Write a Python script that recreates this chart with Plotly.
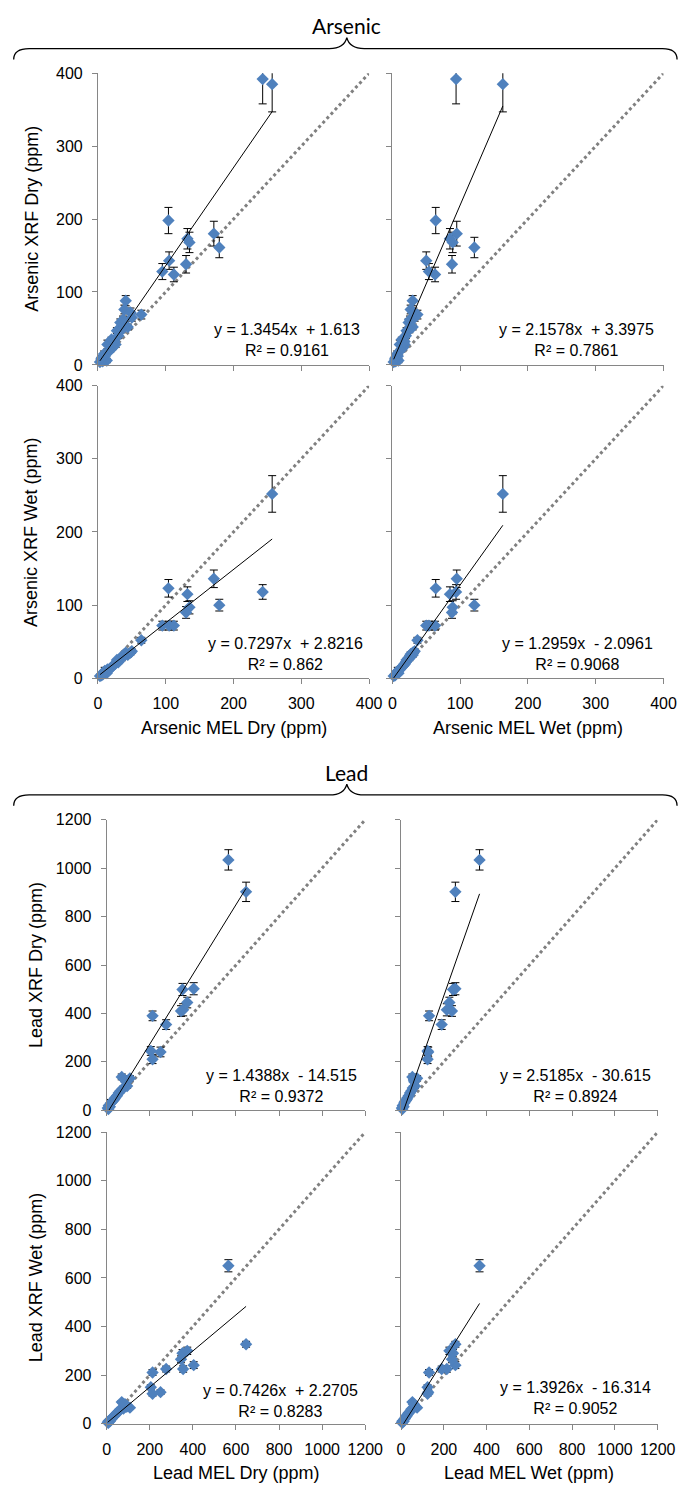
import plotly.graph_objects as go

W, H = 697, 1496

# ---------------- Arsenic data (ppm) ----------------
as_mel_dry = [243, 257, 104, 171, 179, 132, 135, 130, 105, 95, 112, 41, 39, 64, 50, 33, 28, 44,
              14, 26, 9, 7, 5, 13, 20, 22, 30, 35, 37, 48, 18, 24, 10, 3, 6]
as_mel_wet = [94, 163, 64, 95, 121, 85, 89, 88, 50, 54, 63, 30, 27, 37, 33, 24, 21, 30,
              11, 18, 7, 5, 4, 9, 14, 16, 20, 25, 26, 31, 12, 18, 8, 2, 5]
as_xrf_dry = [392, 385, 198, 180, 161, 173, 168, 138, 143, 128, 124, 88, 76, 69, 65, 58, 47, 52,
              28, 28, 15, 5, 8, 6, 35, 24, 40, 48, 62, 72, 20, 32, 12, 4, 10]
as_xrf_dry_err = [34, 38, 18, 17, 14, 14, 14, 12, 12, 11, 10, 7, 6, 6, 5, 5, 4, 4,
                  6, 4, 4, 3, 3, 3, 3, 3, 4, 4, 5, 6, 3, 3, 3, 2, 3]
as_xrf_wet = [118, 252, 123, 136, 100, 115, 97, 90, 72, 72, 72, 35, 33, 52, 37, 28, 25, 32,
              12, 20, 8, 5, 4, 7, 15, 17, 22, 27, 30, 35, 13, 19, 10, 3, 6]
as_xrf_wet_err = [10, 25, 12, 12, 8, 10, 9, 8, 6, 6, 6, 3, 3, 4, 3, 3, 2, 3,
                  3, 2, 3, 2, 2, 2, 2, 2, 2, 3, 3, 3, 2, 2, 5, 2, 2]

# trendline coefficients as printed on the chart: slope, intercept, R²
as_fit_dry_dry = (1.3454, 1.613, 0.9161)
as_fit_wet_dry = (2.1578, 3.3975, 0.7861)
as_fit_dry_wet = (0.7297, 2.8216, 0.862)
as_fit_wet_wet = (1.2959, -2.0961, 0.9068)

# ---------------- Lead data (ppm) ----------------
pb_mel_dry = [565, 647, 352, 404, 374, 355, 345, 213, 276, 205, 250, 213, 70, 108, 90, 78, 56, 40,
              10, 5, 30, 20, 64, 95, 15, 25, 48, 85, 8, 35]
pb_mel_wet = [367, 254, 243, 254, 226, 214, 238, 131, 190, 124, 127, 124, 53, 75, 62, 55, 42, 30,
              8, 4, 22, 15, 48, 65, 12, 18, 36, 60, 6, 26]
pb_xrf_dry = [1034, 902, 499, 502, 445, 415, 410, 390, 354, 245, 241, 211, 138, 132, 118, 92, 72, 52,
              20, 10, 40, 30, 80, 100, 15, 35, 60, 125, 5, 45]
pb_xrf_dry_err = [42, 40, 25, 25, 22, 25, 22, 20, 20, 18, 20, 18, 12, 11, 10, 8, 6, 5,
                  4, 3, 5, 4, 7, 9, 30, 4, 5, 10, 3, 4]
pb_xrf_wet = [650, 327, 290, 241, 300, 225, 265, 211, 225, 150, 130, 123, 89, 66, 70, 62, 50, 38,
              12, 6, 28, 18, 60, 72, 10, 22, 45, 80, 4, 32]
pb_xrf_wet_err = [25, 12, 15, 14, 15, 13, 14, 12, 12, 10, 9, 9, 6, 5, 5, 5, 4, 3,
                  3, 2, 3, 3, 4, 5, 3, 3, 4, 5, 2, 3]

pb_fit_dry_dry = (1.4388, -14.515, 0.9372)
pb_fit_wet_dry = (2.5185, -30.615, 0.8924)
pb_fit_dry_wet = (0.7426, 2.2705, 0.8283)
pb_fit_wet_wet = (1.3926, -16.314, 0.9052)

as_ticks = [0, 100, 200, 300, 400]
pb_ticks = [0, 200, 400, 600, 800, 1000, 1200]

BLUE = "#4F81BD"
AXIS = "#868686"
FONT = "Arial"


def fx(x):
    return x / W


def fy(y):
    return 1 - y / H


panels = [
    dict(xd=as_mel_dry, yd=as_xrf_dry, err=as_xrf_dry_err, fit=as_fit_dry_dry,
         box=(97, 377, 66, 361), ticks=as_ticks, xl=False, yl=True, eq=(292, 336)),
    dict(xd=as_mel_wet, yd=as_xrf_dry, err=as_xrf_dry_err, fit=as_fit_wet_dry,
         box=(401, 681, 66, 361), ticks=as_ticks, xl=False, yl=False, eq=(591, 336)),
    dict(xd=as_mel_dry, yd=as_xrf_wet, err=as_xrf_wet_err, fit=as_fit_dry_wet,
         box=(97, 377, 382, 678), ticks=as_ticks, xl=True, yl=True, eq=(291, 653)),
    dict(xd=as_mel_wet, yd=as_xrf_wet, err=as_xrf_wet_err, fit=as_fit_wet_wet,
         box=(401, 681, 382, 678), ticks=as_ticks, xl=True, yl=False, eq=(592, 653)),
    dict(xd=pb_mel_dry, yd=pb_xrf_dry, err=pb_xrf_dry_err, fit=pb_fit_dry_dry,
         box=(106, 373, 821, 1115), ticks=pb_ticks, xl=False, yl=True, eq=(287, 1090)),
    dict(xd=pb_mel_wet, yd=pb_xrf_dry, err=pb_xrf_dry_err, fit=pb_fit_wet_dry,
         box=(410, 675, 821, 1115), ticks=pb_ticks, xl=False, yl=False, eq=(590, 1090)),
    dict(xd=pb_mel_dry, yd=pb_xrf_wet, err=pb_xrf_wet_err, fit=pb_fit_dry_wet,
         box=(106, 373, 1137, 1432), ticks=pb_ticks, xl=True, yl=True, eq=(286, 1409)),
    dict(xd=pb_mel_wet, yd=pb_xrf_wet, err=pb_xrf_wet_err, fit=pb_fit_wet_wet,
         box=(410, 675, 1137, 1432), ticks=pb_ticks, xl=True, yl=False, eq=(590, 1406)),
]

fig = go.Figure()
annotations = []
layout_axes = {}

for i, p in enumerate(panels, start=1):
    xa = "x" if i == 1 else f"x{i}"
    ya = "y" if i == 1 else f"y{i}"
    x0, x1, y0, y1 = p["box"]
    top = p["ticks"][-1]

    # 1:1 reference line
    fig.add_trace(go.Scatter(x=[0, top], y=[0, top], mode="lines", xaxis=xa, yaxis=ya,
                             line=dict(color="#808080", width=3, dash="dot"),
                             hoverinfo="skip", showlegend=False))
    # error bars (clipped to plot area)
    fig.add_trace(go.Scatter(x=p["xd"], y=p["yd"], mode="markers", xaxis=xa, yaxis=ya,
                             marker=dict(size=1, opacity=0),
                             error_y=dict(type="data", array=p["err"], visible=True,
                                          color="black", thickness=1, width=4),
                             hoverinfo="skip", showlegend=False))
    # data points
    fig.add_trace(go.Scatter(x=p["xd"], y=p["yd"], mode="markers", xaxis=xa, yaxis=ya,
                             marker=dict(symbol="diamond", size=9.5, color=BLUE,
                                         line=dict(width=0)),
                             cliponaxis=False, showlegend=False))
    # linear trendline
    slope, icpt, r2 = p["fit"]
    xmin, xmax = min(p["xd"]), max(p["xd"])
    fig.add_trace(go.Scatter(x=[xmin, xmax], y=[slope * xmin + icpt, slope * xmax + icpt],
                             mode="lines", xaxis=xa, yaxis=ya,
                             line=dict(color="black", width=1),
                             hoverinfo="skip", showlegend=False))

    sign = "+" if icpt >= 0 else "-"
    eq_text = f"y = {slope}x\u00a0 {sign} {abs(icpt)}<br>R² = {r2}"
    annotations.append(dict(x=fx(p["eq"][0]), y=fy(p["eq"][1]), xref="paper", yref="paper",
                            text=eq_text, showarrow=False, xanchor="center", yanchor="middle",
                            align="center", font=dict(family=FONT, size=16, color="black")))

    axis_common = dict(showline=True, linecolor=AXIS, linewidth=1, ticks="outside",
                       ticklen=5, tickcolor=AXIS, tickwidth=1, showgrid=False, zeroline=False,
                       range=[0, top], tickvals=p["ticks"], fixedrange=True,
                       tickfont=dict(family=FONT, size=16, color="black"))
    layout_axes["xaxis" if i == 1 else f"xaxis{i}"] = dict(
        axis_common, domain=[fx(x0), fx(x1)], anchor=ya, showticklabels=p["xl"],
        ticklabelstandoff=6)
    layout_axes["yaxis" if i == 1 else f"yaxis{i}"] = dict(
        axis_common, domain=[fy(y1), fy(y0)], anchor=xa, showticklabels=p["yl"],
        ticklabelstandoff=6)

# axis titles
title_font = dict(family=FONT, size=18, color="black")
x_titles = [("Arsenic MEL Dry (ppm)", 237, 728), ("Arsenic MEL Wet (ppm)", 541, 728),
            ("Lead MEL Dry (ppm)", 240, 1482), ("Lead MEL Wet (ppm)", 542, 1482)]
y_titles = [("Arsenic XRF Dry (ppm)", 28, 213), ("Arsenic XRF Wet (ppm)", 28, 530),
            ("Lead XRF Dry (ppm)", 33, 968), ("Lead XRF Wet (ppm)", 33, 1284)]
for t, x, y in x_titles:
    annotations.append(dict(x=fx(x), y=fy(y), xref="paper", yref="paper", text=t,
                            showarrow=False, xanchor="center", yanchor="middle", font=title_font))
for t, x, y in y_titles:
    annotations.append(dict(x=fx(x), y=fy(y), xref="paper", yref="paper", text=t, textangle=-90,
                            showarrow=False, xanchor="center", yanchor="middle", font=title_font))

# group titles and braces
group_font = dict(family="Lato", size=21, color="black")
shapes = []
for label, ty, by in [("Arsenic", 18, 41), ("Lead", 773, 796)]:
    annotations.append(dict(x=fx(354), y=fy(ty), xref="paper", yref="paper", text=label,
                            showarrow=False, xanchor="center", yanchor="middle", font=group_font))
    pts = [
        ("M", [(10, by + 11)]),
        ("C", [(10, by + 3), (16, by), (26, by)]),
        ("L", [(336, by)]),
        ("C", [(346, by), (352, by - 3), (354, by - 11)]),
        ("C", [(356, by - 3), (362, by), (372, by)]),
        ("L", [(680, by)]),
        ("C", [(690, by), (695, by + 3), (695, by + 11)]),
    ]
    path = " ".join(cmd + " " + " ".join(f"{fx(a):.5f},{fy(b):.5f}" for a, b in c) for cmd, c in pts)
    shapes.append(dict(type="path", path=path, xref="paper", yref="paper",
                       line=dict(color="black", width=1.3)))

fig.update_layout(
    width=W, height=H, margin=dict(l=0, r=0, t=0, b=0),
    paper_bgcolor="white", plot_bgcolor="white", showlegend=False,
    annotations=annotations, shapes=shapes, **layout_axes,
)

# remove the default page margin so the figure fills the window exactly
fig.write_html(
    "out.html", config={"displayModeBar": False},
    post_script=("document.documentElement.style.margin='0';"
                 "document.body.style.margin='0';document.body.style.padding='0';"
                 "document.documentElement.style.overflow='hidden';"
                 "document.body.style.overflow='hidden';"),
)
